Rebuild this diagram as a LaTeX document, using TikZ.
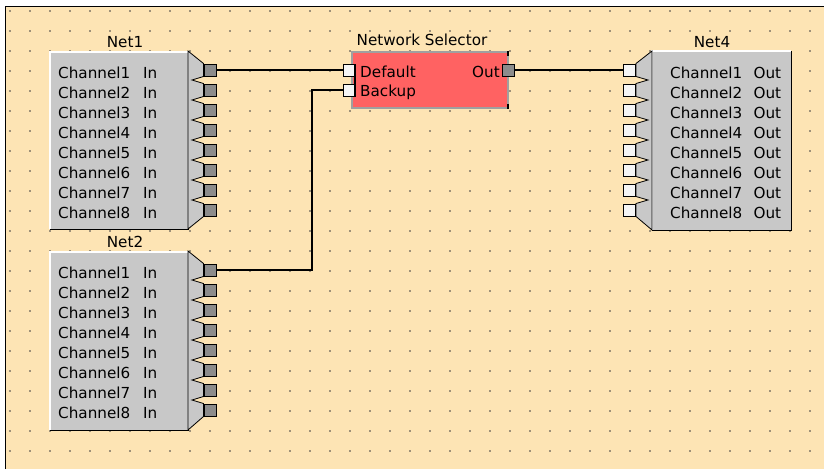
\documentclass[tikz,border=0pt]{standalone}
\usepackage{fontspec}
\setmainfont{DejaVu Sans}
\definecolor{bgcol}{RGB}{253,228,180}
\definecolor{boxgray}{RGB}{200,200,200}
\definecolor{pingray}{RGB}{140,140,140}
\definecolor{pinwhite}{RGB}{245,245,245}
\definecolor{selred}{RGB}{255,98,98}
\definecolor{selborder}{RGB}{160,160,160}
\definecolor{dotcol}{RGB}{60,60,60}
\newcommand\RightFan[4]{% X, first pin y, top y, bottom y
  \filldraw[fanstyle] (#1,#3) -- ({#1+15.5},{#2-6.5})
    \foreach \k in {0,...,6} { -- ({#1+15.5},{#2+6.5+20*\k}) -- ({#1+4},{#2+10+20*\k}) -- ({#1+15.5},{#2+13.5+20*\k}) }
    -- ({#1+15.5},{#2+146.5}) -- (#1,#4) -- cycle;}
\newcommand\LeftFan[4]{%
  \filldraw[fanstyle] (#1,#3) -- ({#1-16},{#2-6.5})
    \foreach \k in {0,...,6} { -- ({#1-16},{#2+6.5+20*\k}) -- ({#1-4},{#2+10+20*\k}) -- ({#1-16},{#2+13.5+20*\k}) }
    -- ({#1-16},{#2+146.5}) -- (#1,#4) -- cycle;}
\tikzset{
  graybox/.style={rectangle, fill=boxgray, inner sep=0, draw=none},
  hilite/.style={white, line width=1.5pt},
  shade3d/.style={black, line width=1.2pt},
  fanstyle/.style={fill=boxgray, draw=black, line width=0.8pt, line join=miter},
  outpin/.style={rectangle, fill=pingray, draw=black, line width=1pt, minimum size=12pt, inner sep=0},
  inpin/.style={rectangle, fill=pinwhite, draw=black, line width=1pt, minimum size=12pt, inner sep=0},
  wire/.style={black, line width=1.3pt},
  lbl/.style={inner sep=0, font=\fontsize{15.2}{18}\selectfont},
}
\begin{document}
\begin{tikzpicture}[x=1pt,y=-1pt]
\useasboundingbox (0,0) rectangle (824,469);
\fill[white] (0,0) rectangle (824,469);
\fill[bgcol] (5,6) rectangle (824,469);
\draw[black, line width=1.2pt] (5.6,469) -- (5.6,6.6) -- (824,6.6);
% grid dots
\foreach \i in {0,...,40} {
  \foreach \j in {0,...,22} {
    \fill[dotcol] ({10+20*\i},{11+20*\j}) circle (0.9pt);
  }
}
% ---------- Net1 ----------
\node[graybox, minimum width=138pt, minimum height=177pt] (net1) at (119,140.5) {};
\draw[hilite] (net1.south west) -- (net1.north west) -- (net1.north east);
\draw[shade3d] (net1.north east) -- (net1.south east) -- (net1.south west);
\RightFan{188}{70}{51}{229}
\node[lbl, anchor=base] (net1lbl) at (125,47) {Net1};
% ---------- Net2 ----------
\node[graybox, minimum width=138pt, minimum height=178pt] (net2) at (119,341) {};
\draw[hilite] (net2.south west) -- (net2.north west) -- (net2.north east);
\draw[shade3d] (net2.north east) -- (net2.south east) -- (net2.south west);
\RightFan{188}{270}{251}{430}
\node[lbl, anchor=base] (net2lbl) at (125,247) {Net2};
% ---------- Net4 ----------
\node[graybox, minimum width=139pt, minimum height=179pt] (net4) at (721.5,140.5) {};
\draw[hilite] (net4.south west) -- (net4.north west) -- (net4.north east);
\draw[shade3d] (net4.north east) -- (net4.south east) -- (net4.south west);
\LeftFan{652}{70}{51}{230}
\node[lbl, anchor=base] (net4lbl) at (712,47) {Net4};
% ---------- Network Selector ----------
\node[rectangle, fill=selred, draw=selborder, line width=1.5pt, minimum width=156pt, minimum height=56pt, inner sep=0] (sel) at (430,80) {};
\draw[black, line width=1.2pt] (508,51) -- (508,56);
\draw[black, line width=1.2pt] (508,104) -- (508,109);
\node[lbl, anchor=base] (sellbl) at (422,45) {Network Selector};
\node[lbl, anchor=base west] (seldef) at (360,77) {Default};
\node[lbl, anchor=base west] (selbak) at (360,96.5) {Backup};
\node[lbl, anchor=base east] (selout) at (500,77) {Out};
% channel texts
\foreach \k in {1,...,8} {
  \node[lbl, anchor=base west] (n1t\k) at (58,{78+20*(\k-1)}) {\makebox[99pt]{Channel\k\hfill In}};
  \node[lbl, anchor=base west] (n2t\k) at (58,{278+20*(\k-1)}) {\makebox[99pt]{Channel\k\hfill In}};
  \node[lbl, anchor=base west] (n4t\k) at (670,{78+20*(\k-1)}) {\makebox[111pt]{Channel\k\hfill Out}};
}
% pins
\foreach \k in {1,...,8} {
  \node[outpin] (n1p\k) at (210,{70+20*(\k-1)}) {};
  \node[outpin] (n2p\k) at (210,{270+20*(\k-1)}) {};
  \node[inpin] (n4p\k) at (629.5,{70+20*(\k-1)}) {};
}
\node[inpin] (seldefpin) at (349,70) {};
\node[inpin] (selbakpin) at (349,90) {};
\node[outpin] (seloutpin) at (508,70) {};
\draw[black, line width=1.2pt] (355,64) -- (355,96);
% wires
\coordinate (bend) at (312,270);
\draw[wire] (n1p1.east) -- (seldefpin.west);
\draw[wire] (n2p1.east) -- (bend) |- (selbakpin.west);
\draw[wire] (seloutpin.east) -- (n4p1.west);
\end{tikzpicture}
\end{document}
